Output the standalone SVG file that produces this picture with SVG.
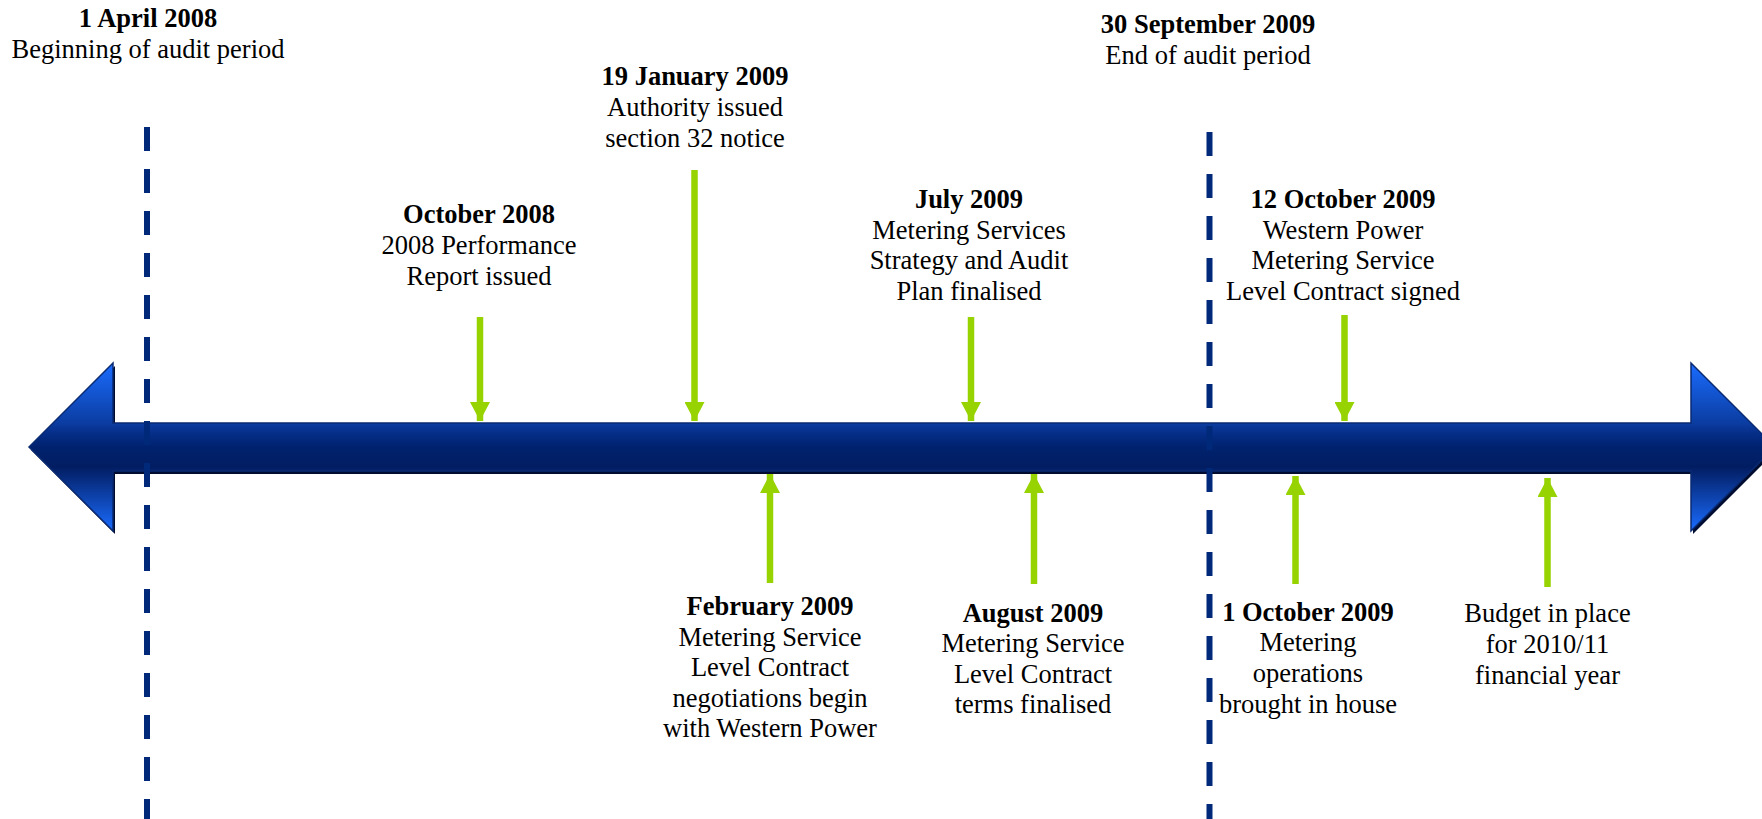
<svg xmlns="http://www.w3.org/2000/svg" width="1762" height="819" viewBox="0 0 1762 819">
<style>
text{font-family:"Liberation Serif","Times New Roman",serif;font-size:26.5px;fill:#000;text-anchor:middle}
.b{font-weight:bold}
.dash{stroke:#00297a;stroke-width:6;stroke-dasharray:24 18;fill:none}
.g{stroke:#96d300;stroke-width:6.5;fill:none;marker-end:url(#gh)}
</style>
<defs>
<linearGradient id="bg" x1="0" y1="363" x2="0" y2="531" gradientUnits="userSpaceOnUse">
<stop offset="0" stop-color="#1a6cff"/>
<stop offset="0.355" stop-color="#0b3da2"/>
<stop offset="0.42" stop-color="#062e88"/>
<stop offset="0.5" stop-color="#00226e"/>
<stop offset="0.62" stop-color="#021d62"/>
<stop offset="1" stop-color="#1a6cff"/>
</linearGradient>
<marker id="gh" viewBox="0 0 19 20" refX="19" refY="10" markerWidth="19" markerHeight="20" markerUnits="userSpaceOnUse" orient="auto">
<path d="M0,0 L19,10 L0,20 Z" fill="#96d300"/>
</marker>
</defs>
<g id="timeline">
<path d="M31,450 L115,366 L115,426 L1693,426 L1693,366 L1777,450 L1693,534 L1693,474 L115,474 L115,534 Z" fill="#000c30"/>
<path d="M29,447 L113,363 L113,423 L1691,423 L1691,363 L1775,447 L1691,531 L1691,471 L113,471 L113,531 Z" fill="url(#bg)" stroke="#0a2a72" stroke-width="1.5"/>
</g>
<g id="period-lines">
<line class="dash" x1="147" y1="127" x2="147" y2="819"/>
<line class="dash" x1="1209.5" y1="132" x2="1209.5" y2="819"/>
</g>
<g id="connectors">
<line class="g" x1="480" y1="317" x2="480" y2="421"/>
<line class="g" x1="694.5" y1="170" x2="694.5" y2="421"/>
<line class="g" x1="971" y1="317" x2="971" y2="421"/>
<line class="g" x1="1344.5" y1="315" x2="1344.5" y2="421"/>
<line class="g" x1="770" y1="583" x2="770" y2="474"/>
<line class="g" x1="1034" y1="584" x2="1034" y2="474"/>
<line class="g" x1="1295.5" y1="584" x2="1295.5" y2="476"/>
<line class="g" x1="1547.5" y1="587" x2="1547.5" y2="478"/>
</g>
<g id="start-period">
<text class="b" x="148" y="27">1 April 2008</text>
<text x="148" y="58">Beginning of audit period</text>
</g>
<g id="end-period">
<text class="b" x="1208" y="33">30 September 2009</text>
<text x="1208" y="64">End of audit period</text>
</g>
<g id="jan-2009">
<text class="b" x="695" y="85">19 January 2009</text>
<text x="695" y="116">Authority issued</text>
<text x="695" y="147">section 32 notice</text>
</g>
<g id="oct-2008">
<text class="b" x="479" y="223">October 2008</text>
<text x="479" y="254">2008 Performance</text>
<text x="479" y="285">Report issued</text>
</g>
<g id="jul-2009">
<text class="b" x="969" y="208">July 2009</text>
<text x="969" y="238.5">Metering Services</text>
<text x="969" y="269">Strategy and Audit</text>
<text x="969" y="299.5">Plan finalised</text>
</g>
<g id="oct12-2009">
<text class="b" x="1343" y="208">12 October 2009</text>
<text x="1343" y="238.5">Western Power</text>
<text x="1343" y="269">Metering Service</text>
<text x="1343" y="299.5">Level Contract signed</text>
</g>
<g id="feb-2009">
<text class="b" x="770" y="615">February 2009</text>
<text x="770" y="645.5">Metering Service</text>
<text x="770" y="676">Level Contract</text>
<text x="770" y="706.5">negotiations begin</text>
<text x="770" y="737">with Western Power</text>
</g>
<g id="aug-2009">
<text class="b" x="1033" y="621.5">August 2009</text>
<text x="1033" y="652">Metering Service</text>
<text x="1033" y="682.5">Level Contract</text>
<text x="1033" y="713">terms finalised</text>
</g>
<g id="oct1-2009">
<text class="b" x="1308" y="620.5">1 October 2009</text>
<text x="1308" y="651">Metering</text>
<text x="1308" y="681.5">operations</text>
<text x="1308" y="712.5">brought in house</text>
</g>
<g id="budget">
<text x="1547.5" y="621.5">Budget in place</text>
<text x="1547.5" y="652.5">for 2010/11</text>
<text x="1547.5" y="683.5">financial year</text>
</g>
</svg>
